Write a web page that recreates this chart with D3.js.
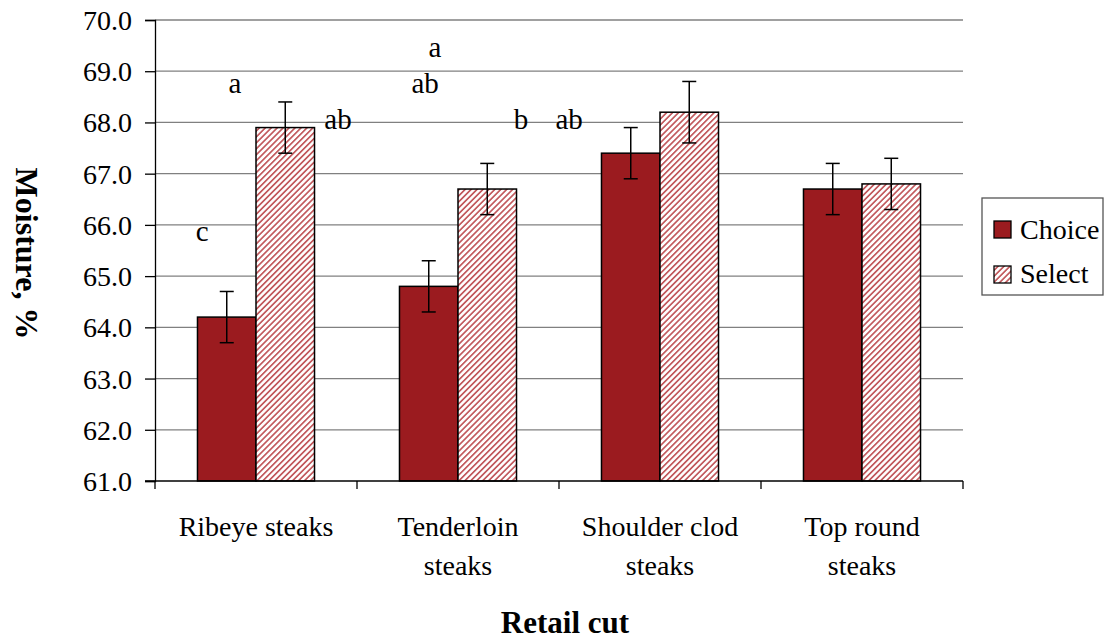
<!DOCTYPE html>
<html>
<head>
<meta charset="UTF-8">
<script src="https://d3js.org/d3.v7.min.js"></script>
<style>
  body { margin: 0; background: #fff; }
  svg text { font-family: "Liberation Serif", "Times New Roman", serif; fill: #000; }
</style>
</head>
<body>
<svg id="chart" width="1109" height="641"></svg>
<script>
// data
const cuts = ["Ribeye steaks", "Tenderloin steaks", "Shoulder clod steaks", "Top round steaks"];
const cutLines = [["Ribeye steaks"], ["Tenderloin", "steaks"], ["Shoulder clod", "steaks"], ["Top round", "steaks"]];
const grades = ["Choice", "Select"];
const choice = [64.2, 64.8, 67.4, 66.7];
const select = [67.9, 66.7, 68.2, 66.8];
const choiceErr = [0.5, 0.5, 0.5, 0.5];
const selectErr = [0.5, 0.5, 0.6, 0.5];
const yTicks = [61, 62, 63, 64, 65, 66, 67, 68, 69, 70];
// significance letters: text, category, position within category (0..1), y value
const letters = [
  { t: "a",  cut: 0, pos: 0.396, v: 68.58 },
  { t: "c",  cut: 0, pos: 0.233, v: 65.69 },
  { t: "ab", cut: 0, pos: 0.906, v: 67.87 },
  { t: "a",  cut: 1, pos: 0.386, v: 69.28 },
  { t: "ab", cut: 1, pos: 0.337, v: 68.58 },
  { t: "b",  cut: 1, pos: 0.812, v: 67.87 },
  { t: "ab", cut: 2, pos: 0.05,  v: 67.87 }
];

const serif = '"Liberation Serif", "Times New Roman", serif';
const svg = d3.select("#chart").style("font-family", serif);
const m = { left: 155, right: 963, top: 20, bottom: 481 };

const x = d3.scaleBand().domain(cuts).range([m.left, m.right]).paddingInner(0).paddingOuter(0);
const y = d3.scaleLinear().domain([61, 70]).range([m.bottom, m.top]);
const inner = d3.scaleBand().domain(grades).range([0, x.bandwidth()]).paddingOuter(0.726).paddingInner(0);

// hatch pattern for Select
const defs = svg.append("defs");
const pat = defs.append("pattern").attr("id", "hatch").attr("patternUnits", "userSpaceOnUse")
  .attr("width", 4.2).attr("height", 4.2).attr("patternTransform", "rotate(45)");
pat.append("rect").attr("width", 4.2).attr("height", 4.2).attr("fill", "#fff");
pat.append("rect").attr("x", 0).attr("width", 1.7).attr("height", 4.2).attr("fill", "#c25a5e");

// gridlines
svg.append("g").selectAll("line").data(yTicks.slice(1)).join("line")
  .attr("x1", m.left).attr("x2", m.right)
  .attr("y1", d => y(d)).attr("y2", d => y(d))
  .attr("stroke", "#808080").attr("stroke-width", 1.3);

// y axis
const yAxis = svg.append("g").attr("transform", `translate(${m.left},0)`)
  .call(d3.axisLeft(y).tickValues(yTicks).tickFormat(d3.format(".1f")).tickSize(10).tickPadding(13));
yAxis.attr("font-family", null).attr("font-size", null);
yAxis.select(".domain").attr("stroke", "#000").attr("stroke-width", 1.3);
yAxis.selectAll(".tick line").attr("stroke", "#000").attr("stroke-width", 1.3);
yAxis.selectAll(".tick text").style("font-family", serif).style("font-size", "28px").attr("dy", "0.34em");

// bars
const series = [
  { g: "Choice", vals: choice, err: choiceErr, fill: "#9b1b1f" },
  { g: "Select", vals: select, err: selectErr, fill: "url(#hatch)" }
];
series.forEach(s => {
  const g = svg.append("g");
  g.selectAll("rect").data(cuts).join("rect")
    .attr("x", (c) => x(c) + inner(s.g))
    .attr("width", inner.bandwidth())
    .attr("y", (c, i) => y(s.vals[i]))
    .attr("height", (c, i) => y(61) - y(s.vals[i]))
    .attr("fill", s.fill).attr("stroke", "#000").attr("stroke-width", 1.5);
});

// error bars
series.forEach(s => {
  const g = svg.append("g").attr("stroke", "#000").attr("stroke-width", 1.5);
  cuts.forEach((c, i) => {
    const cx = x(c) + inner(s.g) + inner.bandwidth() / 2;
    const hi = y(s.vals[i] + s.err[i]), lo = y(s.vals[i] - s.err[i]);
    g.append("line").attr("x1", cx).attr("x2", cx).attr("y1", hi).attr("y2", lo);
    g.append("line").attr("x1", cx - 7).attr("x2", cx + 7).attr("y1", hi).attr("y2", hi);
    g.append("line").attr("x1", cx - 7).attr("x2", cx + 7).attr("y1", lo).attr("y2", lo);
  });
});

// x axis
const xAxis = svg.append("g").attr("transform", `translate(0,${m.bottom})`);
xAxis.append("line").attr("x1", m.left - 10).attr("x2", m.right).attr("stroke", "#000").attr("stroke-width", 1.3);
xAxis.selectAll(".tk").data(cuts.concat(["end"])).join("line").attr("class", "tk")
  .attr("x1", (c, i) => m.left + i * x.bandwidth()).attr("x2", (c, i) => m.left + i * x.bandwidth())
  .attr("y1", 0).attr("y2", 8).attr("stroke", "#000").attr("stroke-width", 1.3);
cuts.forEach((c, i) => {
  const t = xAxis.append("text").attr("text-anchor", "middle")
    .style("font-family", serif).style("font-size", "28px")
    .attr("x", x(c) + x.bandwidth() / 2);
  cutLines[i].forEach((ln, j) => {
    t.append("tspan").attr("x", x(c) + x.bandwidth() / 2).attr("y", 55 + j * 39).text(ln);
  });
});

// letters
svg.append("g").selectAll("text").data(letters).join("text")
  .attr("x", d => x(cuts[d.cut]) + d.pos * x.bandwidth())
  .attr("y", d => y(d.v))
  .attr("text-anchor", "middle")
  .style("font-family", serif).style("font-size", "29px")
  .text(d => d.t);

// axis titles
svg.append("text").attr("transform", `translate(16,${(m.top + m.bottom) / 2 + 3}) rotate(90)`)
  .attr("text-anchor", "middle")
  .style("font-family", serif).style("font-size", "32px").style("font-weight", "bold")
  .text("Moisture, %");
svg.append("text").attr("x", 565).attr("y", 633).attr("text-anchor", "middle")
  .style("font-family", serif).style("font-size", "31px").style("font-weight", "bold").text("Retail cut");

// legend
const lg = svg.append("g").attr("transform", "translate(982,198)");
lg.append("rect").attr("width", 121).attr("height", 97).attr("fill", "#fff")
  .attr("stroke", "#555").attr("stroke-width", 1.3);
series.forEach((s, i) => {
  lg.append("rect").attr("x", 12).attr("y", 23 + i * 45).attr("width", 17).attr("height", 17)
    .attr("fill", s.fill).attr("stroke", "#000").attr("stroke-width", 1.3);
  lg.append("text").attr("x", 38).attr("y", 41 + i * 44)
    .style("font-family", serif).style("font-size", "28px").text(s.g);
});
</script>
</body>
</html>
